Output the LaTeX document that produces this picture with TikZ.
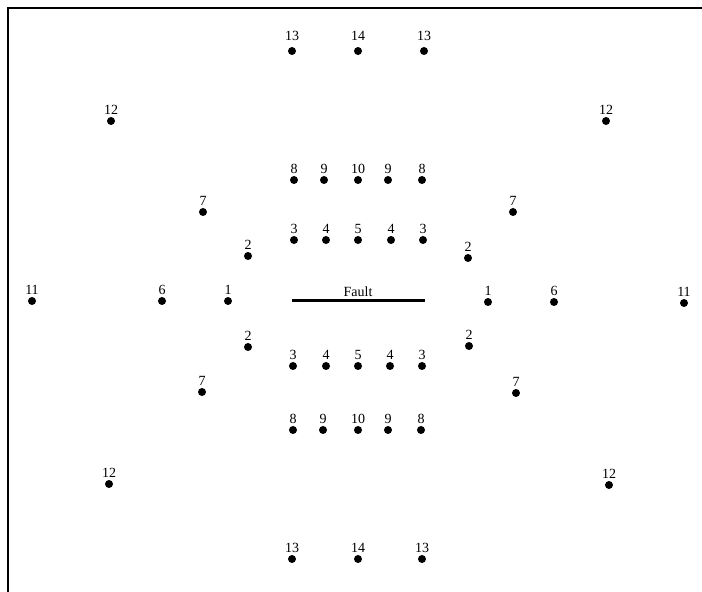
\documentclass[tikz,border=0pt]{standalone}
\usepackage{fontspec}
\setmainfont{Liberation Serif}
\begin{document}
\begin{tikzpicture}[x=1pt,y=1pt,
  lbl/.style={font=\fontsize{14}{16}\selectfont},
  pdot/.style={circle,fill=black,inner sep=0pt,minimum size=8pt,
    label={[inner sep=0pt,label distance=2pt,lbl]above:#1}},
  pdothi/.style={circle,fill=black,inner sep=0pt,minimum size=8pt,
    label={[inner sep=0pt,label distance=6pt,lbl]above:#1}},
  framestyle/.style={line width=2pt,line cap=rect},
  faultstyle/.style={line width=3pt}]
\useasboundingbox (0,0) rectangle (702,592);
% frame (left and top edges)
\coordinate (fbl) at (8,-2);
\coordinate (ftl) at (8,584);
\coordinate (ftr) at (704,584);
\draw[framestyle] (fbl) -- (ftl) -- (ftr);
% fault
\coordinate (fa) at (292,291);
\coordinate (fb) at (425,291);
\draw[faultstyle] (fa) -- (fb);
\node[lbl,anchor=base,inner sep=0pt] (faulttxt) at (358,295.5) {Fault};
% top row 13 14 13
\node[pdothi=13] (t13a) at (292,541) {};
\node[pdothi=14] (t14) at (358,541) {};
\node[pdothi=13] (t13b) at (424,541) {};
% 12 upper
\node[pdot=12] (u12a) at (111,471) {};
\node[pdot=12] (u12b) at (606,471) {};
% 8 9 10 9 8 upper
\node[pdot=8] (u8a) at (294,412) {};
\node[pdot=9] (u9a) at (324,412) {};
\node[pdot=10] (u10) at (358,412) {};
\node[pdot=9] (u9b) at (388,412) {};
\node[pdot=8] (u8b) at (422,412) {};
% 7 upper
\node[pdot=7] (u7a) at (203,380) {};
\node[pdot=7] (u7b) at (513,380) {};
% 3 4 5 4 3 upper
\node[pdot=3] (u3a) at (294,352) {};
\node[pdot=4] (u4a) at (326,352) {};
\node[pdot=5] (u5) at (358,352) {};
\node[pdot=4] (u4b) at (391,352) {};
\node[pdot=3] (u3b) at (423,352) {};
% 2 upper
\node[pdot=2] (u2a) at (248,336) {};
\node[pdot=2] (u2b) at (468,334) {};
% middle row
\node[pdot=11] (m11a) at (32,291) {};
\node[pdot=6] (m6a) at (162,291) {};
\node[pdot=1] (m1a) at (228,291) {};
\node[pdot=1] (m1b) at (488,290) {};
\node[pdot=6] (m6b) at (554,290) {};
\node[pdot=11] (m11b) at (684,289) {};
% 2 lower
\node[pdot=2] (l2a) at (248,245) {};
\node[pdot=2] (l2b) at (469,246) {};
% 3 4 5 4 3 lower
\node[pdot=3] (l3a) at (293,226) {};
\node[pdot=4] (l4a) at (326,226) {};
\node[pdot=5] (l5) at (358,226) {};
\node[pdot=4] (l4b) at (390,226) {};
\node[pdot=3] (l3b) at (422,226) {};
% 7 lower
\node[pdot=7] (l7a) at (202,200) {};
\node[pdot=7] (l7b) at (516,199) {};
% 8 9 10 9 8 lower
\node[pdot=8] (l8a) at (293,162) {};
\node[pdot=9] (l9a) at (323,162) {};
\node[pdot=10] (l10) at (358,162) {};
\node[pdot=9] (l9b) at (388,162) {};
\node[pdot=8] (l8b) at (421,162) {};
% 12 lower
\node[pdot=12] (l12a) at (109,108) {};
\node[pdot=12] (l12b) at (609,107) {};
% bottom row 13 14 13
\node[pdot=13] (b13a) at (292,33) {};
\node[pdot=14] (b14) at (358,33) {};
\node[pdot=13] (b13b) at (422,33) {};
\end{tikzpicture}
\end{document}
